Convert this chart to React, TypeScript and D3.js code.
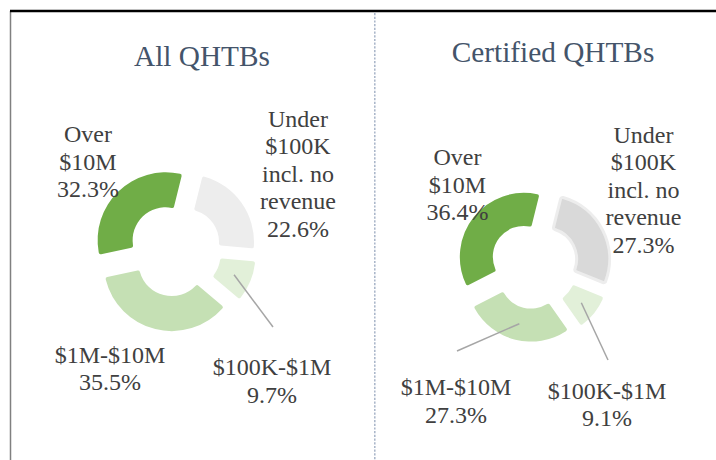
import React from 'react';
import * as d3 from 'd3';

const categories = ['Under $100K incl. no revenue', '$100K-$1M', '$1M-$10M', 'Over $10M'];
const labelLines = [['Under', '$100K', 'incl. no', 'revenue'], ['$100K-$1M'], ['$1M-$10M'], ['Over', '$10M']];
const allValues = [22.6, 9.7, 35.5, 32.3];
const certifiedValues = [27.3, 9.1, 27.3, 36.4];
const titles = ['All QHTBs', 'Certified QHTBs'];

const greens = ['#EDEDED', '#E2F0D9', '#C5E0B4', '#70AD47'];
const deg = Math.PI / 180;
const serif = 'Liberation Serif';

// layout for each panel (label anchors = x centre / first baseline)
const panels = [
  {
    values: allValues,
    title: titles[0],
    titleX: 202,
    titleY: 66,
    cx: 175,
    cy: 250,
    outer: 68,
    inner: 33,
    explode: 13.5,
    fills: greens,
    strokes: ['none', 'none', 'none', 'none'],
    labels: [
      { x: 298, y: 126.5 },
      { x: 272, y: 375, lead: [273, 327] },
      { x: 110, y: 362.5 },
      { x: 88, y: 142 },
    ],
  },
  {
    values: certifiedValues,
    title: titles[1],
    titleX: 553,
    titleY: 61.5,
    cx: 534,
    cy: 265,
    outer: 64,
    inner: 31,
    explode: 13,
    fills: ['#D9D9D9', '#E2F0D9', '#C5E0B4', '#70AD47'],
    strokes: ['#EDEDED', 'none', 'none', 'none'],
    labels: [
      { x: 643.5, y: 142.5 },
      { x: 607, y: 398.5, lead: [608, 360] },
      { x: 456, y: 395, lead: [457, 351] },
      { x: 457.5, y: 165 },
    ],
  },
];

const lineH = 27.5;

const Donut = ({ p }: { p: (typeof panels)[number] }) => {
  const pie = d3
    .pie<number>()
    .sort(null)
    .value((d) => d)
    .startAngle(14 * deg)
    .endAngle(14 * deg + 2 * Math.PI);
  const arc = d3
    .arc<d3.PieArcDatum<number>>()
    .innerRadius(p.inner)
    .outerRadius(p.outer)
    .cornerRadius(2);
  const arcs = pie(p.values);

  return (
    <g>
      <text
        x={p.titleX}
        y={p.titleY}
        textAnchor="middle"
        fontFamily={serif}
        fontSize={29.3}
        fill="#44546A"
      >
        {p.title}
      </text>
      <g transform={`translate(${p.cx},${p.cy})`}>
        {arcs.map((a, i) => {
          const mid = (a.startAngle + a.endAngle) / 2;
          const dx = Math.sin(mid) * p.explode;
          const dy = -Math.cos(mid) * p.explode;
          return (
            <path
              key={categories[i]}
              d={arc(a) || ''}
              transform={`translate(${dx},${dy})`}
              fill={p.fills[i]}
              stroke={p.strokes[i]}
              strokeWidth={p.strokes[i] === 'none' ? 0 : 3}
            />
          );
        })}
        {arcs.map((a, i) => {
          const lab = p.labels[i];
          if (!lab.lead) return null;
          const mid = (a.startAngle + a.endAngle) / 2;
          const [c0, c1] = arc.centroid(a);
          const sx = c0 + Math.sin(mid) * p.explode;
          const sy = c1 - Math.cos(mid) * p.explode;
          return (
            <line
              key={'l' + i}
              x1={sx}
              y1={sy}
              x2={lab.lead[0] - p.cx}
              y2={lab.lead[1] - p.cy}
              stroke="#A6A6A6"
              strokeWidth={1.5}
            />
          );
        })}
      </g>
      {arcs.map((a, i) => {
        const lab = p.labels[i];
        const lines = [...labelLines[i], d3.format('.1f')(p.values[i]) + '%'];
        return (
          <text key={'t' + i} textAnchor="middle" fontFamily={serif} fontSize={24} fill="#404040">
            {lines.map((s, j) => (
              <tspan key={j} x={lab.x} y={lab.y + j * lineH} fontFamily={serif}>
                {s}
              </tspan>
            ))}
          </text>
        );
      })}
    </g>
  );
};

export default function App() {
  return (
    <svg
      width={716}
      height={460}
      style={{ position: 'absolute', left: 0, top: 0 }}
    >
      <rect width={716} height={460} fill="#fff" />
      <line x1={10.5} y1={11} x2={10.5} y2={460} stroke="#808080" strokeWidth={1.5} />
      <line x1={10} y1={11} x2={716} y2={11} stroke="#000" strokeWidth={2.5} />
      <line
        x1={374.8}
        y1={13}
        x2={374.8}
        y2={460}
        stroke="#A8B4C8"
        strokeWidth={1.5}
        strokeDasharray="2.2,1.5"
      />
      {panels.map((p) => (
        <Donut key={p.title} p={p} />
      ))}
    </svg>
  );
}
